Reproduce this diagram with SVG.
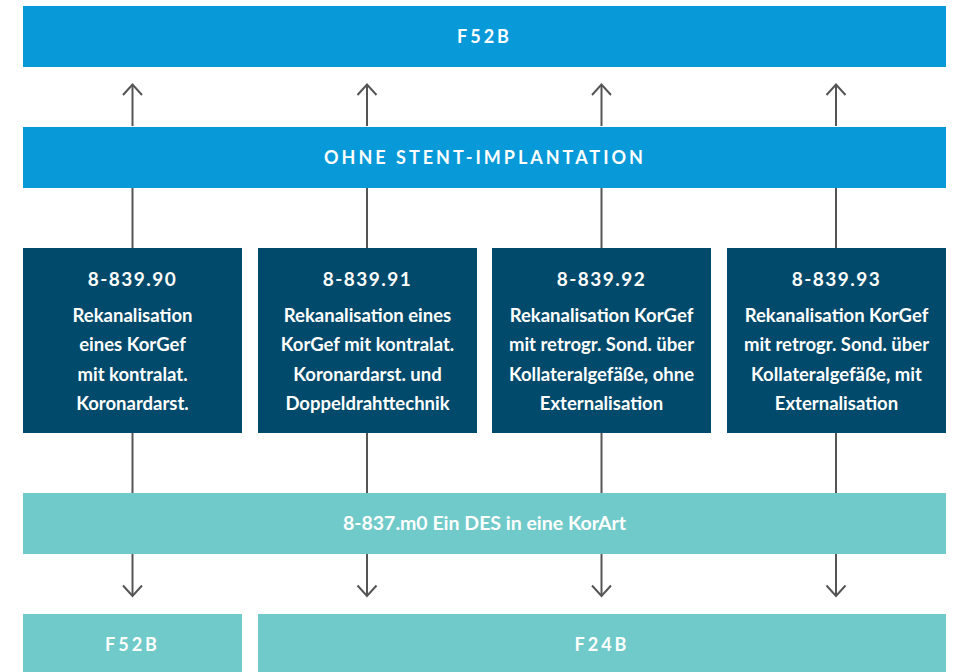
<svg xmlns="http://www.w3.org/2000/svg" width="953" height="672" viewBox="0 0 953 672">
<defs>
<style>
.blue{fill:#0799d8}
.dark{fill:#024a6b}
.green{fill:#6fcac9}
text{font-family:Lato,"Open Sans",sans-serif;font-weight:bold;fill:#ffffff;text-anchor:middle}
.h{font-size:18px;letter-spacing:3px}
.code{font-size:19px;letter-spacing:1.5px}
.body{font-size:18.5px}
.lbl{font-size:19.5px}
.conn line{stroke:#555555;stroke-width:2;fill:none}
.conn path{stroke:#555555;stroke-width:2;fill:none}
</style>
</defs>
<rect width="953" height="672" fill="#ffffff"/>
<g id="conn" class="conn">
<line x1="132.5" y1="126" x2="132.5" y2="85"/>
<line x1="367" y1="126" x2="367" y2="85"/>
<line x1="601.5" y1="126" x2="601.5" y2="85"/>
<line x1="836" y1="126" x2="836" y2="85"/>
<line x1="132.5" y1="188" x2="132.5" y2="248"/>
<line x1="367" y1="188" x2="367" y2="248"/>
<line x1="601.5" y1="188" x2="601.5" y2="248"/>
<line x1="836" y1="188" x2="836" y2="248"/>
<line x1="132.5" y1="433" x2="132.5" y2="493"/>
<line x1="367" y1="433" x2="367" y2="493"/>
<line x1="601.5" y1="433" x2="601.5" y2="493"/>
<line x1="836" y1="433" x2="836" y2="493"/>
<line x1="132.5" y1="554" x2="132.5" y2="595"/>
<line x1="367" y1="554" x2="367" y2="595"/>
<line x1="601.5" y1="554" x2="601.5" y2="595"/>
<line x1="836" y1="554" x2="836" y2="595"/>
<path d="M123 95 L132.5 84.5 L142 95"/>
<path d="M357.5 95 L367 84.5 L376.5 95"/>
<path d="M592 95 L601.5 84.5 L611 95"/>
<path d="M826.5 95 L836 84.5 L845.5 95"/>
<path d="M123 585.5 L132.5 596 L142 585.5"/>
<path d="M357.5 585.5 L367 596 L376.5 585.5"/>
<path d="M592 585.5 L601.5 596 L611 585.5"/>
<path d="M826.5 585.5 L836 596 L845.5 585.5"/>
</g>
<g id="top-f52b">
<rect class="blue" x="23" y="6" width="923" height="61"/>
<text class="h" x="484.5" y="43">F52B</text>
</g>
<g id="ohne-stent">
<rect class="blue" x="23" y="127" width="923" height="61"/>
<text class="h" x="485" y="164">OHNE STENT-IMPLANTATION</text>
</g>
<g id="n90">
<rect class="dark" x="23" y="248" width="219" height="185"/>
<text class="code" x="132.5" y="286">8-839.90</text>
<text class="body" x="132.5" y="321.5">Rekanalisation</text>
<text class="body" x="132.5" y="351">eines KorGef</text>
<text class="body" x="132.5" y="380.5">mit kontralat.</text>
<text class="body" x="132.5" y="410">Koronardarst.</text>
</g>
<g id="n91">
<rect class="dark" x="258" y="248" width="219" height="185"/>
<text class="code" x="367.5" y="286">8-839.91</text>
<text class="body" x="367.5" y="321.5">Rekanalisation eines</text>
<text class="body" x="367.5" y="351">KorGef mit kontralat.</text>
<text class="body" x="367.5" y="380.5">Koronardarst. und</text>
<text class="body" x="367.5" y="410">Doppeldrahttechnik</text>
</g>
<g id="n92">
<rect class="dark" x="492" y="248" width="219" height="185"/>
<text class="code" x="601.5" y="286">8-839.92</text>
<text class="body" x="601.5" y="321.5">Rekanalisation KorGef</text>
<text class="body" x="601.5" y="351">mit retrogr. Sond. über</text>
<text class="body" x="601.5" y="380.5">Kollateralgefäße, ohne</text>
<text class="body" x="601.5" y="410">Externalisation</text>
</g>
<g id="n93">
<rect class="dark" x="727" y="248" width="219" height="185"/>
<text class="code" x="836.5" y="286">8-839.93</text>
<text class="body" x="836.5" y="321.5">Rekanalisation KorGef</text>
<text class="body" x="836.5" y="351">mit retrogr. Sond. über</text>
<text class="body" x="836.5" y="380.5">Kollateralgefäße, mit</text>
<text class="body" x="836.5" y="410">Externalisation</text>
</g>
<g id="des">
<rect class="green" x="23" y="493" width="923" height="61"/>
<text class="lbl" x="484.5" y="530">8-837.m0 Ein DES in eine KorArt</text>
</g>
<g id="bottom-f52b">
<rect class="green" x="23" y="614" width="219" height="58"/>
<text class="h" x="132.5" y="651">F52B</text>
</g>
<g id="bottom-f24b">
<rect class="green" x="258" y="614" width="688" height="58"/>
<text class="h" x="602" y="651">F24B</text>
</g>
</svg>
